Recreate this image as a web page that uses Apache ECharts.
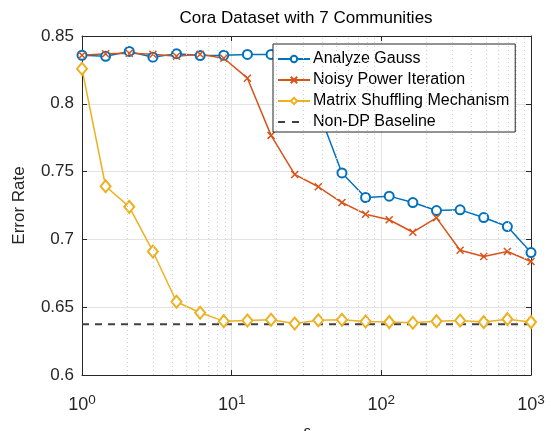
<!DOCTYPE html>
<html>
	<head>
		<meta charset="utf-8" />
		<script src="https://cdn.jsdelivr.net/npm/echarts@6/dist/echarts.min.js" type="text/javascript" charset="utf-8"></script>
		<style>
			html, body { margin: 0; padding: 0; background: #fff; }
			#chart { width: 551px; height: 431px; }
		</style>
	</head>
	<body>
		<div id="chart"></div>
		<script>
			// privacy budget epsilon, 20 log-spaced points
			var epsilon = [1, 1.438, 2.069, 2.976, 4.281, 6.158, 8.859, 12.74, 18.33, 26.37, 37.93, 54.56, 78.48, 112.9, 162.4, 233.6, 336.0, 483.3, 695.2, 1000];
			var analyzeGauss = [0.8358, 0.8350, 0.8386, 0.8344, 0.8370, 0.8356, 0.8358, 0.8364, 0.8364, 0.8362, 0.7950, 0.7490, 0.7309, 0.7319, 0.7272, 0.7213, 0.7218, 0.7161, 0.7095, 0.6903];
			var noisyPower = [0.8358, 0.8369, 0.8373, 0.8366, 0.8351, 0.8366, 0.8336, 0.8189, 0.7767, 0.7479, 0.7388, 0.7272, 0.7186, 0.7145, 0.7053, 0.7159, 0.6920, 0.6874, 0.6911, 0.6837];
			var matrixShuffle = [0.8258, 0.7392, 0.7240, 0.6911, 0.6540, 0.6459, 0.6397, 0.6402, 0.6407, 0.6380, 0.6404, 0.6407, 0.6395, 0.6390, 0.6385, 0.6397, 0.6402, 0.6390, 0.6412, 0.6390];
			var baselineValue = 0.6375;
			var minorTicks = [2, 3, 4, 5, 6, 7, 8, 9, 20, 30, 40, 50, 60, 70, 80, 90, 200, 300, 400, 500, 600, 700, 800, 900];
			var seriesNames = ["Analyze Gauss", "Noisy Power Iteration", "Matrix Shuffling Mechanism", "Non-DP Baseline"];

			var font = "Arial, 'Liberation Sans', Helvetica, sans-serif";
			var ink = "#262626";

			function pairs(xs, ys) {
				var out = [];
				for(var i = 0; i < xs.length; i++)
					out.push([xs[i], ys[i]]);
				return out;
			}

			var minorLines = [];
			for(var i = 0; i < minorTicks.length; i++)
				minorLines.push({ xAxis: minorTicks[i] });

			var chart = echarts.init(document.getElementById("chart"), null, { renderer: "canvas" });

			var option = {
				animation: false,
				backgroundColor: "#fff",
				textStyle: { fontFamily: font },
				title: {
					text: "Cora Dataset with 7 Communities",
					left: 306,
					top: 10,
					padding: 0,
					textAlign: "center",
					textStyle: { fontFamily: font, fontSize: 17, fontWeight: "normal", color: "#000" }
				},
				grid: { left: 82, right: 20, top: 36, bottom: 56, containLabel: false, outerBoundsMode: "none" },
				legend: {
					data: [
						{ name: seriesNames[0] },
						{ name: seriesNames[1] },
						{ name: seriesNames[2] },
						{ name: seriesNames[3], icon: "path://M0,0H7V2H0Z M14,0H21V2H14Z M31.9,0H32V2H31.9Z", itemStyle: { color: "#404040" } }
					],
					orient: "vertical",
					left: 273,
					top: 44,
					padding: [7, 6, 2, 4],
					itemGap: 5,
					itemWidth: 32,
					itemHeight: 8,
					backgroundColor: "#fff",
					borderColor: ink,
					borderWidth: 1,
					borderRadius: 0,
					textStyle: { fontFamily: font, fontSize: 16, lineHeight: 16, color: "#000", padding: [0, 0, 0, -2] }
				},
				xAxis: [{
					type: "log",
					logBase: 10,
					min: 1,
					max: 1000,
					name: "ε",
					nameLocation: "middle",
					nameGap: 50,
					nameTextStyle: { fontFamily: font, fontSize: 16, fontStyle: "italic", color: ink },
					axisLine: { show: true, lineStyle: { color: ink, width: 1 } },
					axisTick: { show: true, inside: true, length: 5, lineStyle: { color: ink } },
					axisLabel: {
						margin: 18,
						formatter: function(v) {
							return "{b|10}{s|" + Math.round(Math.log10(v)) + "}";
						},
						rich: {
							b: { fontFamily: font, fontSize: 18, color: ink },
							s: { fontFamily: font, fontSize: 13.5, color: ink, padding: [0, 0, 11, 0] }
						}
					},
					splitLine: { show: true, lineStyle: { color: "#e3e3e3", width: 1 } }
				}, {
					type: "log",
					logBase: 10,
					min: 1,
					max: 1000,
					position: "top",
					axisLine: { show: true, lineStyle: { color: ink, width: 1 } },
					axisTick: { show: true, inside: true, length: 5, lineStyle: { color: ink } },
					axisLabel: { show: false },
					splitLine: { show: false }
				}],
				yAxis: [{
					type: "value",
					min: 0.6,
					max: 0.85,
					interval: 0.05,
					name: "Error Rate",
					nameLocation: "middle",
					nameGap: 54,
					nameTextStyle: { fontFamily: font, fontSize: 17, color: ink },
					axisLine: { show: true, lineStyle: { color: ink, width: 1 } },
					axisTick: { show: true, inside: true, length: 5, lineStyle: { color: ink } },
					axisLabel: {
						fontFamily: font, fontSize: 17, color: ink, margin: 8,
						formatter: function(v) { return String(Math.round(v * 100) / 100); }
					},
					splitLine: { show: true, lineStyle: { color: "#e3e3e3", width: 1 } }
				}, {
					type: "value",
					min: 0.6,
					max: 0.85,
					interval: 0.05,
					position: "right",
					axisLine: { show: true, lineStyle: { color: ink, width: 1 } },
					axisTick: { show: true, inside: true, length: 5, lineStyle: { color: ink } },
					axisLabel: { show: false },
					splitLine: { show: false }
				}],
				series: [{
					name: "minor grid",
					type: "line",
					data: [],
					z: 1,
					markLine: {
						silent: true,
						symbol: ["none", "none"],
						label: { show: false },
						lineStyle: { color: "#cfcfcf", type: [1, 3], width: 1 },
						data: minorLines
					}
				}, {
					name: seriesNames[0],
					type: "line",
					data: pairs(epsilon, analyzeGauss),
					symbol: "emptyCircle",
					symbolSize: 9,
					color: "#0072BD",
					lineStyle: { color: "#0072BD", width: 1.5 },
					itemStyle: { color: "#0072BD", borderColor: "#0072BD", borderWidth: 1.5 }
				}, {
					name: seriesNames[1],
					type: "line",
					data: pairs(epsilon, noisyPower),
					symbol: "path://M0,0L10,10M0,10L10,0",
					symbolSize: 7,
					color: "#D95319",
					lineStyle: { color: "#D95319", width: 1.5 },
					itemStyle: { color: "rgba(0,0,0,0)", borderColor: "#D95319", borderWidth: 1.5 }
				}, {
					name: seriesNames[2],
					type: "line",
					data: pairs(epsilon, matrixShuffle),
					symbol: "emptyDiamond",
					symbolSize: [10, 12],
					color: "#EDB120",
					lineStyle: { color: "#EDB120", width: 1.5 },
					itemStyle: { color: "#EDB120", borderColor: "#EDB120", borderWidth: 1.5 }
				}, {
					name: seriesNames[3],
					type: "line",
					data: [[1, baselineValue], [1000, baselineValue]],
					symbol: "none",
					color: "#404040",
					lineStyle: { color: "#404040", width: 2, type: [7, 6] }
				}]
			};

			chart.setOption(option);
		</script>
	</body>
</html>
